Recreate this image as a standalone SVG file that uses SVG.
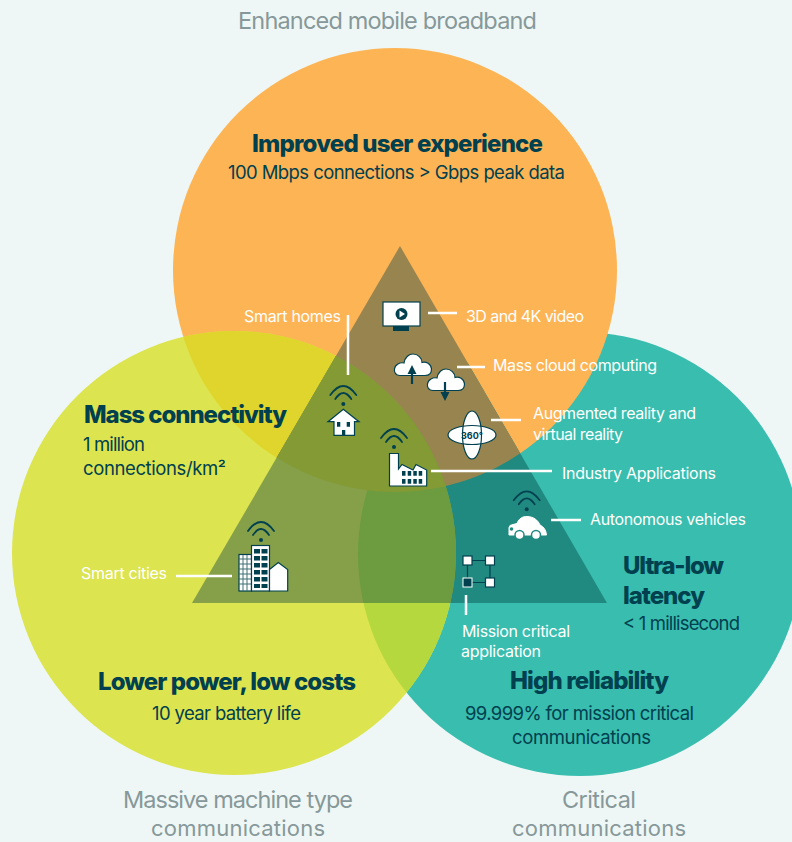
<svg xmlns="http://www.w3.org/2000/svg" xmlns:xlink="http://www.w3.org/1999/xlink" width="792" height="842" viewBox="0 0 792 842">
<style>
text{font-family:Inter,"Liberation Sans",sans-serif}
.cap{font-size:23.500px;fill:#87989A}
.cap2{font-size:22px;fill:#87989A}
.h{font-size:24px;font-weight:800;fill:#00404F}
.b{font-size:18.500px;fill:#00404F}
.w{font-size:16px;fill:#fff}
.conn{stroke:#fff;stroke-width:2.5;fill:none}
.ic{fill:#fff;stroke:#00404F;stroke-width:1.2}
.d{fill:#00404F}
.ds{stroke:#00404F;fill:none}
</style>
<defs>
<clipPath id="cTri"><polygon points="400,246 192,603 607,603"/></clipPath>
<clipPath id="cY"><circle cx="234" cy="553" r="222"/></clipPath>
<g id="wifi"><circle r="2" cy="0" class="d"/><path class="ds" stroke-width="1.8" stroke-linecap="round" d="M-13,-9Q0,-27 13,-9M-8,-5Q0,-17 8,-5"/></g>
<path id="cloud" class="ic" d="M6,21.500C1,21.500 0,17 0.500,15C1,10.500 6,8 10,9C11,3 15,0 19,0C24,0 28,4 28,8.500C32,7 37,10 37.500,15C37.500,19 35,21.500 31,21.500Z"/>
</defs>
<rect width="792" height="842" fill="#EEF7F5"/>
<g id="venn">
<circle cx="580" cy="554" r="222" fill="#38BDAE"/>
<circle cx="395" cy="270" r="222" fill="#FDB455"/>
<circle cx="234" cy="553" r="222" fill="#DCE44F"/>
<g clip-path="url(#cY)">
<circle cx="580" cy="554" r="222" fill="#B5D83F"/>
<circle cx="395" cy="270" r="222" fill="#DFD52C"/>
</g>
<g clip-path="url(#cTri)">
<circle cx="580" cy="554" r="222" fill="#218A80"/>
<circle cx="395" cy="270" r="222" fill="#98844F"/>
<circle cx="234" cy="553" r="222" fill="#86A04A"/>
<g clip-path="url(#cY)">
<circle cx="580" cy="554" r="222" fill="#6C9C3F"/>
<circle cx="395" cy="270" r="222" fill="#849A35"/>
</g>
</g>
</g>
<g id="connectors">
<path class="conn" d="M348,315V375M428,313H457M457,367H485M491,420H521M431,471H552M551,520H581M176,576H232M466,595V615"/>
</g>
<g id="node-video">
<rect class="ic" x="383" y="302" width="37" height="24"/>
<rect class="d" x="393" y="326" width="16" height="5"/>
<circle class="d" cx="401.500" cy="314" r="6"/>
<path fill="#fff" d="M399.500,310.500L405,314L399.500,317.500Z"/>
</g>
<g id="node-cloud">
<use xlink:href="#cloud" x="394" y="354"/>
<use xlink:href="#cloud" x="427" y="369"/>
<path class="ds" stroke-width="2.200" d="M412,384V370M445,382V396"/>
<path class="d" d="M412,365L407.500,374H416.500ZM445,401L440.500,392H449.500Z"/>
</g>
<g id="node-ar">
<ellipse fill="#fff" cx="472" cy="435" rx="9.500" ry="24"/>
<ellipse fill="#fff" cx="472" cy="435" rx="24" ry="9.500"/>
<ellipse class="ds" stroke-width="1.200" cx="472" cy="435" rx="9.500" ry="24"/>
<ellipse class="ds" stroke-width="1.200" cx="472" cy="435" rx="24" ry="9.500"/>
<text x="472" y="438.500" text-anchor="middle" style="font-size:9px;font-weight:700;fill:#00404F">360°</text>
</g>
<g id="node-home">
<use xlink:href="#wifi" x="343.300" y="404"/>
<path class="ic" d="M343.300,409.300L359,421.700H354.500V435.300H334V421.700H328Z"/>
<path class="d" d="M337,422h3.300v4.700H337ZM346.700,422H350v4.700h-3.300ZM342,430h3.300v5.300H342Z"/>
</g>
<g id="node-factory">
<use xlink:href="#wifi" x="394" y="447"/>
<path class="ic" d="M389.500,453.500H398.500V469L402,464.500L413,470L416,464.500L426.700,470V486H389.500Z"/>
<path class="d" d="M402,471h3.500v4.700H402ZM407.700,471h3.500v4.700h-3.500ZM413.300,471h3.500v4.700h-3.500ZM418.700,471h3.500v4.700h-3.500ZM402,479h3.500v4.700H402ZM407.700,479h3.500v4.700h-3.500ZM413.300,479h3.500v4.700h-3.500ZM418.700,479h3.500v4.700h-3.500Z"/>
</g>
<g id="node-city">
<use xlink:href="#wifi" x="261" y="540"/>
<rect class="ic" x="239" y="554.500" width="12.500" height="36.500"/>
<path stroke="#3F6E72" stroke-width="1" fill="none" d="M243,555V591M247,555V591M239,559H251M239,564H251M239,569H251M239,574H251M239,579H251M239,584H251"/>
<rect class="ic" x="251.500" y="545.500" width="18" height="45.500"/>
<path class="ic" d="M269.500,569.500L278.300,562.500L287.700,569.500V591H269.500Z"/>
<path class="d" d="M254,549h6v4.500h-6ZM261.500,549h6v4.500h-6ZM254,556h6v4.500h-6ZM261.500,556h6v4.500h-6ZM254,563h6v4.500h-6ZM261.500,563h6v4.500h-6ZM254,570h6v4.500h-6ZM261.500,570h6v4.500h-6ZM254,577h6v4.500h-6ZM261.500,577h6v4.500h-6ZM254,584h6v4h-6ZM261.500,584h6v4h-6Z"/>
</g>
<g id="node-car">
<use xlink:href="#wifi" x="526.700" y="509.300"/>
<path fill="#fff" stroke="#fff" d="M509,535V527.500Q509,525 513,524.500L517,523.500C519,518 523,516.500 527,516.500C533,516.500 538,520 540,525C544,527 546,530 546.500,535Z"/>
<circle cx="519.500" cy="535" r="4.500" fill="#fff" stroke="#218A80" stroke-width="1.500"/>
<circle cx="536" cy="535" r="4.500" fill="#fff" stroke="#218A80" stroke-width="1.500"/>
<circle cx="511.500" cy="529" r="1.800" fill="#218A80"/>
</g>
<g id="node-network">
<path class="ds" stroke-width="1.200" d="M467.500,560.500H490V582.500H467.500Z"/>
<rect class="ic" x="463" y="556" width="9" height="9"/>
<rect class="ic" x="485.500" y="556" width="9" height="9"/>
<rect class="ic" x="485.500" y="578" width="9" height="9"/>
<rect x="463" y="578" width="9" height="9" fill="#00404F" stroke="#fff" stroke-width="1"/>
</g>
<g id="labels">
<text class="cap" x="238" y="29" textLength="299">Enhanced mobile broadband</text>
<text class="cap" x="123" y="808" textLength="230">Massive machine type</text>
<text class="cap2" x="151" y="836" textLength="174">communications</text>
<text class="cap" x="562" y="808" textLength="74">Critical</text>
<text class="cap2" x="512" y="836" textLength="174">communications</text>
<text class="h" x="252" y="152" textLength="291">Improved user experience</text>
<text class="b" x="228" y="179" textLength="337">100 Mbps connections &gt; Gbps peak data</text>
<text class="h" x="84" y="423" textLength="203">Mass connectivity</text>
<text class="b" x="83" y="451" textLength="62">1 million</text>
<text class="b" x="83" y="475" textLength="143">connections/km²</text>
<text class="h" x="623" y="574" textLength="101">Ultra-low</text>
<text class="h" x="623" y="604" textLength="82">latency</text>
<text class="b" x="623" y="630" textLength="117">&lt; 1 millisecond</text>
<text class="h" x="98" y="690" textLength="258">Lower power, low costs</text>
<text class="b" x="152" y="720" textLength="149">10 year battery life</text>
<text class="h" x="510" y="689" textLength="159">High reliability</text>
<text class="b" x="465" y="720" textLength="229">99.999% for mission critical</text>
<text class="b" x="512" y="744" textLength="139">communications</text>
<text class="w" x="244" y="322" textLength="97">Smart homes</text>
<text class="w" x="466" y="322" textLength="118">3D and 4K video</text>
<text class="w" x="493" y="371" textLength="164">Mass cloud computing</text>
<text class="w" x="533" y="419" textLength="163">Augmented reality and</text>
<text class="w" x="533" y="440" textLength="90">virtual reality</text>
<text class="w" x="562" y="479" textLength="154">Industry Applications</text>
<text class="w" x="590" y="525" textLength="156">Autonomous vehicles</text>
<text class="w" x="81" y="579" textLength="86">Smart cities</text>
<text class="w" x="462" y="637" textLength="108">Mission critical</text>
<text class="w" x="461" y="657" textLength="80">application</text>
</g>
</svg>
